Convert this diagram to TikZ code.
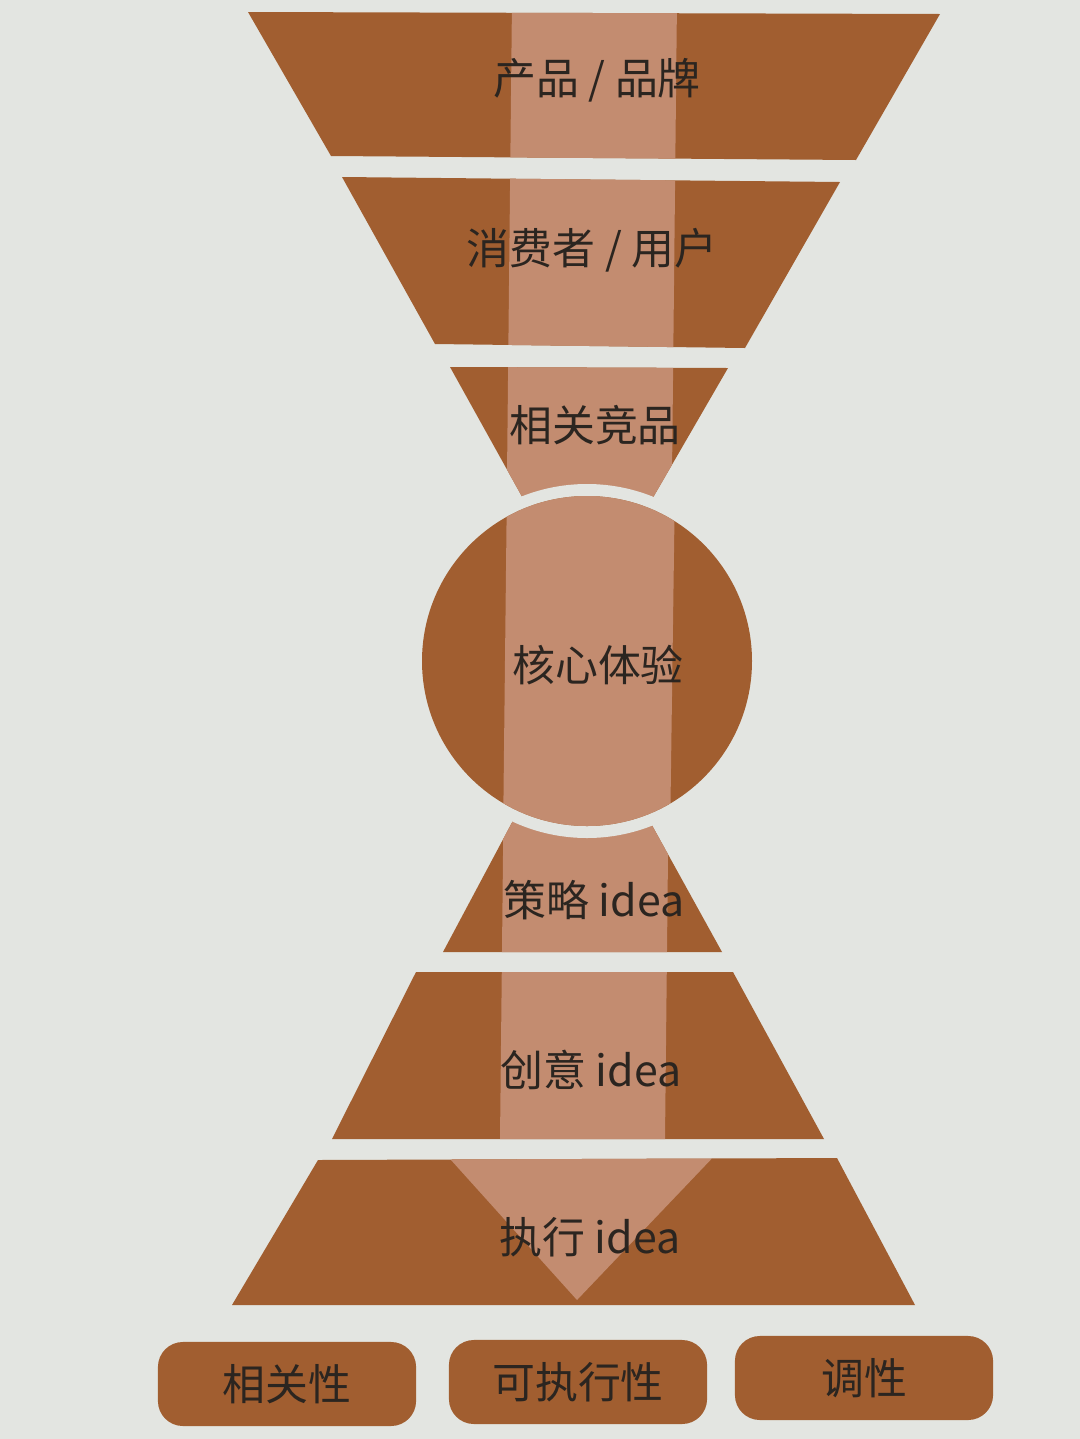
\documentclass[tikz,border=0pt]{standalone}
\usepackage{fontspec}
\newfontfamily\cjk{Noto Sans CJK SC}
\usepackage{tikz}
\usetikzlibrary{positioning}

\definecolor{paper}{HTML}{E3E5E1}
\definecolor{brown}{HTML}{A15E30}
\definecolor{band}{HTML}{C38C70}
\definecolor{ink}{HTML}{2B2520}

\begin{document}
\begin{tikzpicture}[x=0.01cm,y=-0.01cm,
	lbl/.style={font=\cjk\fontsize{12.2pt}{14pt}\selectfont,text=ink,inner sep=0pt},
	crit/.style={lbl,fill=brown,rounded corners=0.25cm,minimum width=2.58cm,minimum height=0.84cm}]
		\fill[paper] (0,0) rectangle (1080,1439);
		%
		% funnel layers
		\begin{scope}
		\clip (248,12) -- (940,14) -- (856,160) -- (331,156) -- cycle
		      (342,177) -- (840,182) -- (745,348) -- (435,344) -- cycle
		      (450,367) -- (728,368) -- (640,520) -- (535,520) -- cycle
		      (524,800) -- (638,800) -- (722,952) -- (443,952) -- cycle
		      (416,972) -- (733,972) -- (824,1139) -- (332,1139) -- cycle
		      (318,1160) -- (837,1158) -- (915,1305) -- (232,1305) -- cycle;
		\fill[brown] (200,0) rectangle (960,1320);
		\fill[band] (512,0) -- (677,0) -- (665,1140) -- (500,1140) -- cycle;
		\fill[band] (442,1150) -- (720,1150) -- (577,1300) -- cycle;
		\end{scope}
		%
		% core circle with its gap
		\fill[paper] (587,661) circle (177);
		\begin{scope}
		\clip (587,661) circle (165);
		\fill[brown] (400,480) rectangle (780,840);
		\fill[band] (507,480) -- (675,480) -- (670,840) -- (503,840) -- cycle;
		\end{scope}
		%
		\node[lbl] (prod) at (597,80) {产品 / 品牌};
		\node[lbl] (user) at (592,250) {消费者 / 用户};
		\node[lbl] (comp) at (595,425) {相关竞品};
		\node[lbl] (core) at (598,665) {核心体验};
		\node[lbl] (strat) at (594,900) {策略 idea};
		\node[lbl] (crea) at (591,1070) {创意 idea};
		\node[lbl] (exec) at (590,1237) {执行 idea};
		%
		\node[crit] (rel) at (287,1384) {相关性};
		\node[crit] (feas) at (578,1382) {可执行性};
		\node[crit] (tone) at (864,1378) {调性};
\end{tikzpicture}
\end{document}
